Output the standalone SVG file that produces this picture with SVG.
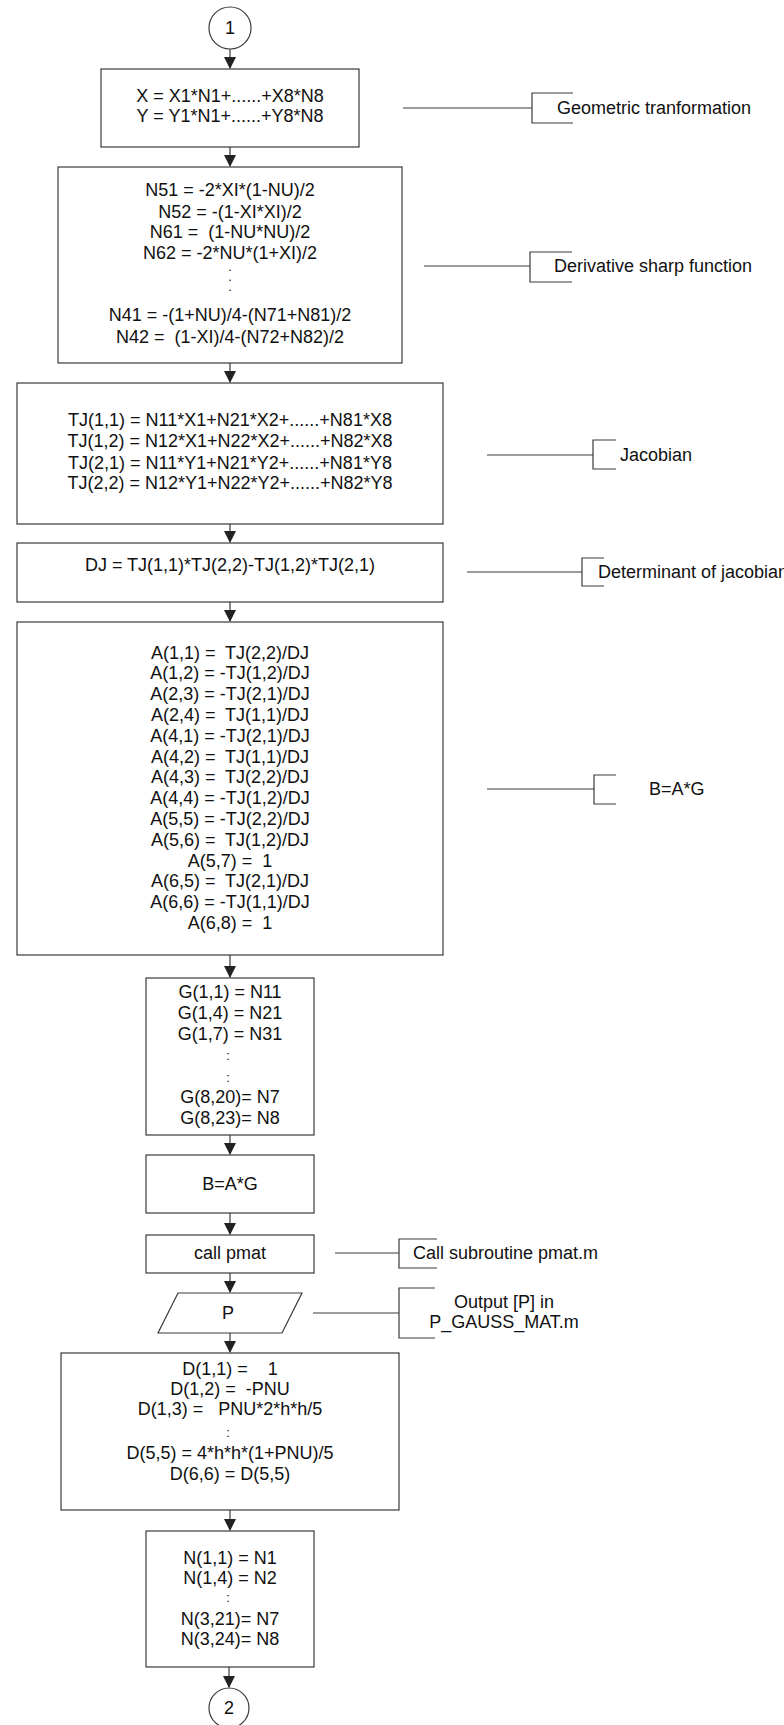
<svg xmlns="http://www.w3.org/2000/svg" width="784" height="1725" viewBox="0 0 784 1725" xml:space="preserve">
<style>
.b{fill:#fff;stroke:#3a3a3a;stroke-width:1.2}
.l{fill:none;stroke:#3a3a3a;stroke-width:1.2}
text{font-family:"Liberation Sans",Arial,sans-serif;font-size:18px;fill:#111;white-space:pre}
.c{text-anchor:middle}
.d{font-size:13px}
</style>
<defs>
<marker id="ah" markerWidth="12" markerHeight="12" refX="11" refY="6" orient="auto" markerUnits="userSpaceOnUse">
<path d="M0,0 L12,6 L0,12 Z" fill="#222"/>
</marker>
</defs>
<rect width="784" height="1725" fill="#fff"/>
<g id="connectors">
<line class="l" x1="230" y1="48" x2="230" y2="68" marker-end="url(#ah)"/>
<line class="l" x1="230" y1="147" x2="230" y2="166" marker-end="url(#ah)"/>
<line class="l" x1="230" y1="363" x2="230" y2="382" marker-end="url(#ah)"/>
<line class="l" x1="230" y1="524" x2="230" y2="542" marker-end="url(#ah)"/>
<line class="l" x1="230" y1="602" x2="230" y2="621" marker-end="url(#ah)"/>
<line class="l" x1="230" y1="955" x2="230" y2="977" marker-end="url(#ah)"/>
<line class="l" x1="230" y1="1135" x2="230" y2="1154" marker-end="url(#ah)"/>
<line class="l" x1="230" y1="1213" x2="230" y2="1234" marker-end="url(#ah)"/>
<line class="l" x1="230" y1="1273" x2="230" y2="1292" marker-end="url(#ah)"/>
<line class="l" x1="230" y1="1333" x2="230" y2="1352" marker-end="url(#ah)"/>
<line class="l" x1="230" y1="1510" x2="230" y2="1530" marker-end="url(#ah)"/>
<line class="l" x1="229" y1="1667" x2="229" y2="1687" marker-end="url(#ah)"/>
<path class="l" d="M403,108 H532 M573,93 H532 V123 H573"/>
<path class="l" d="M424,266 H530 M572,252 H530 V282 H572"/>
<path class="l" d="M487,455 H593 M616,440 H593 V469 H616"/>
<path class="l" d="M467,572 H582 M604,558 H582 V586 H604"/>
<path class="l" d="M487,789 H594 M616,775 H594 V804 H616"/>
<path class="l" d="M335,1253 H399 M437,1239 H399 V1268 H437"/>
<path class="l" d="M313,1313 H399 M435,1288 H399 V1338 H435"/>
</g>
<g id="start"><circle class="b" cx="230" cy="28" r="21"/><text class="c" x="230" y="34">1</text></g>
<g id="geom"><rect class="b" x="101" y="69" width="258" height="78"/>
<text class="c" x="230" y="102">X = X1*N1+......+X8*N8</text>
<text class="c" x="230" y="122">Y = Y1*N1+......+Y8*N8</text></g>
<g id="deriv"><rect class="b" x="58" y="167" width="344" height="196"/>
<text class="c" x="230" y="196">N51 = -2*XI*(1-NU)/2</text>
<text class="c" x="230" y="218">N52 = -(1-XI*XI)/2</text>
<text class="c" x="230" y="238">N61 =  (1-NU*NU)/2</text>
<text class="c" x="230" y="259">N62 = -2*NU*(1+XI)/2</text>
<text class="c d" x="230" y="271">.</text><text class="c d" x="230" y="281">.</text><text class="c d" x="230" y="291">.</text>
<text class="c" x="230" y="321">N41 = -(1+NU)/4-(N71+N81)/2</text>
<text class="c" x="230" y="343">N42 =  (1-XI)/4-(N72+N82)/2</text></g>
<g id="jac"><rect class="b" x="17" y="383" width="426" height="141"/>
<text class="c" x="230" y="426">TJ(1,1) = N11*X1+N21*X2+......+N81*X8</text>
<text class="c" x="230" y="447">TJ(1,2) = N12*X1+N22*X2+......+N82*X8</text>
<text class="c" x="230" y="469">TJ(2,1) = N11*Y1+N21*Y2+......+N81*Y8</text>
<text class="c" x="230" y="489">TJ(2,2) = N12*Y1+N22*Y2+......+N82*Y8</text></g>
<g id="det"><rect class="b" x="17" y="543" width="426" height="59"/>
<text class="c" x="230" y="571">DJ = TJ(1,1)*TJ(2,2)-TJ(1,2)*TJ(2,1)</text></g>
<g id="amat"><rect class="b" x="17" y="622" width="426" height="333"/>
<text class="c" x="230" y="658.5">A(1,1) =  TJ(2,2)/DJ</text>
<text class="c" x="230" y="679.3">A(1,2) = -TJ(1,2)/DJ</text>
<text class="c" x="230" y="700.1">A(2,3) = -TJ(2,1)/DJ</text>
<text class="c" x="230" y="720.9">A(2,4) =  TJ(1,1)/DJ</text>
<text class="c" x="230" y="741.7">A(4,1) = -TJ(2,1)/DJ</text>
<text class="c" x="230" y="762.5">A(4,2) =  TJ(1,1)/DJ</text>
<text class="c" x="230" y="783.3">A(4,3) =  TJ(2,2)/DJ</text>
<text class="c" x="230" y="804.1">A(4,4) = -TJ(1,2)/DJ</text>
<text class="c" x="230" y="824.9">A(5,5) = -TJ(2,2)/DJ</text>
<text class="c" x="230" y="845.7">A(5,6) =  TJ(1,2)/DJ</text>
<text class="c" x="230" y="866.5">A(5,7) =  1</text>
<text class="c" x="230" y="887.3">A(6,5) =  TJ(2,1)/DJ</text>
<text class="c" x="230" y="908.1">A(6,6) = -TJ(1,1)/DJ</text>
<text class="c" x="230" y="928.9">A(6,8) =  1</text></g>
<g id="gmat"><rect class="b" x="146" y="978" width="168" height="157"/>
<text class="c" x="230" y="998">G(1,1) = N11</text>
<text class="c" x="230" y="1019">G(1,4) = N21</text>
<text class="c" x="230" y="1040">G(1,7) = N31</text>
<text class="c d" x="228" y="1060">:</text>
<text class="c d" x="228" y="1082">:</text>
<text class="c" x="230" y="1103">G(8,20)= N7</text>
<text class="c" x="230" y="1124">G(8,23)= N8</text></g>
<g id="bag"><rect class="b" x="146" y="1155" width="168" height="58"/>
<text class="c" x="230" y="1190">B=A*G</text></g>
<g id="pmat"><rect class="b" x="146" y="1235" width="168" height="38"/>
<text class="c" x="230" y="1259">call pmat</text></g>
<g id="pout"><polygon class="b" points="178,1293 302,1293 282,1333 158,1333"/>
<text class="c" x="228" y="1319">P</text></g>
<g id="dmat"><rect class="b" x="61" y="1353" width="338" height="157"/>
<text class="c" x="230" y="1375">D(1,1) =    1</text>
<text class="c" x="230" y="1395">D(1,2) =  -PNU</text>
<text class="c" x="230" y="1415">D(1,3) =   PNU*2*h*h/5</text>
<text class="c d" x="228" y="1437">:</text>
<text class="c" x="230" y="1459">D(5,5) = 4*h*h*(1+PNU)/5</text>
<text class="c" x="230" y="1480">D(6,6) = D(5,5)</text></g>
<g id="nmat"><rect class="b" x="146" y="1531" width="168" height="136"/>
<text class="c" x="230" y="1564">N(1,1) = N1</text>
<text class="c" x="230" y="1584">N(1,4) = N2</text>
<text class="c d" x="228" y="1602">:</text>
<text class="c" x="230" y="1625">N(3,21)= N7</text>
<text class="c" x="230" y="1645">N(3,24)= N8</text></g>
<g id="end"><circle class="b" cx="229" cy="1708" r="20"/><text class="c" x="229" y="1714">2</text></g>
<g id="labels">
<text x="557" y="114">Geometric tranformation</text>
<text x="554" y="272">Derivative sharp function</text>
<text x="620" y="461">Jacobian</text>
<text x="598" y="578">Determinant of jacobian</text>
<text x="649" y="795">B=A*G</text>
<text x="413" y="1259">Call subroutine pmat.m</text>
<text class="c" x="504" y="1308">Output [P] in</text>
<text class="c" x="504" y="1328">P_GAUSS_MAT.m</text>
</g>
</svg>
